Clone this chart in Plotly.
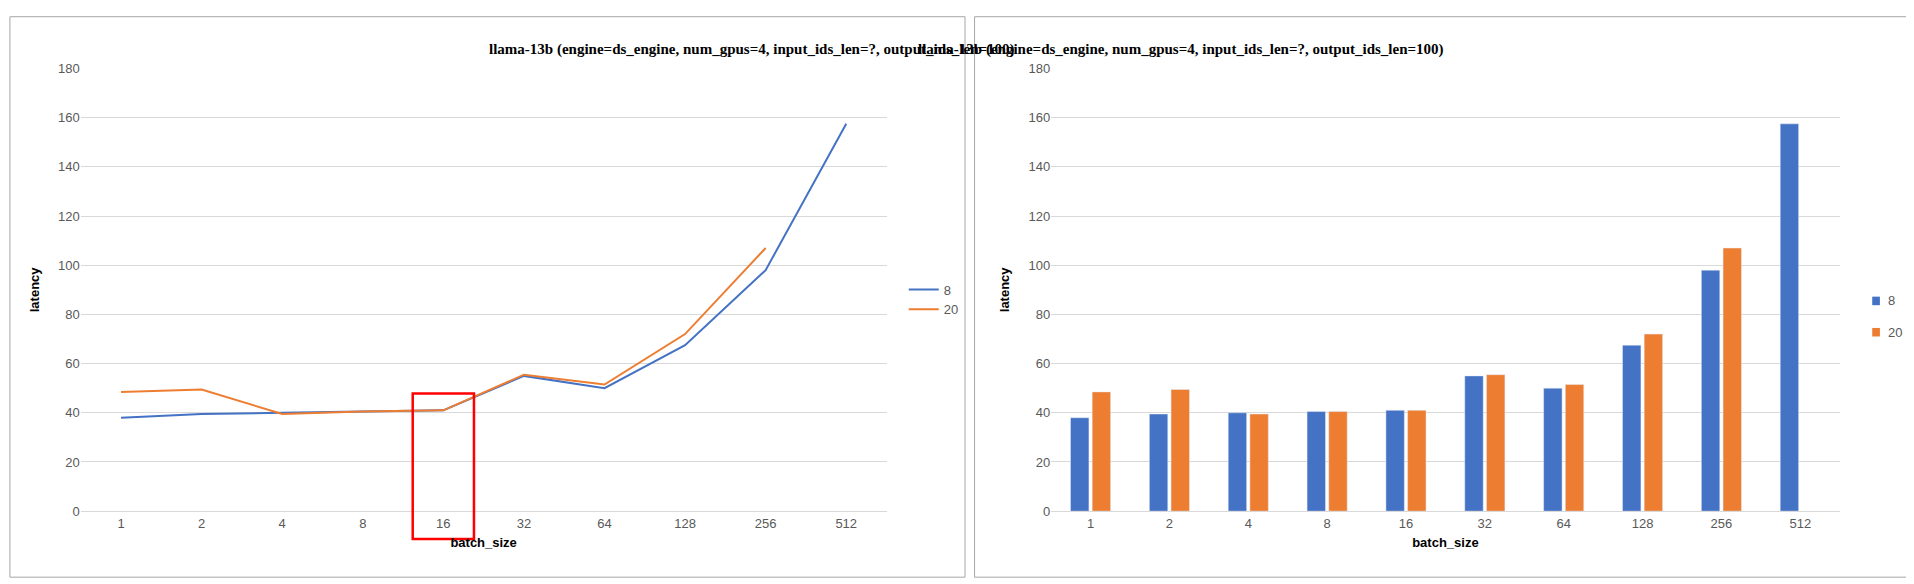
import plotly.graph_objects as go
from plotly.subplots import make_subplots

batch_sizes = ['1', '2', '4', '8', '16', '32', '64', '128', '256', '512']
latency_8 = [38, 39.5, 40, 40.5, 41, 55, 50, 67.5, 98, 157.5]
latency_20 = [48.5, 49.5, 39.5, 40.5, 41, 55.5, 51.5, 72, 107, None]

BLUE = '#4472C4'
ORANGE = '#ED7D31'
TITLE = 'llama-13b (engine=ds_engine, num_gpus=4, input_ids_len=?, output_ids_len=100)'

fig = make_subplots(rows=1, cols=2)

fig.add_trace(go.Scatter(x=batch_sizes, y=latency_8, name='8', mode='lines',
                         line=dict(color=BLUE, width=2)), row=1, col=1)
fig.add_trace(go.Scatter(x=batch_sizes, y=latency_20, name='20', mode='lines',
                         line=dict(color=ORANGE, width=2)), row=1, col=1)
fig.add_trace(go.Bar(x=batch_sizes, y=latency_8, name='8', marker_color=BLUE,
                     showlegend=False), row=1, col=2)
fig.add_trace(go.Bar(x=batch_sizes, y=latency_20, name='20', marker_color=ORANGE,
                     showlegend=False), row=1, col=2)

axis_font = dict(family='Liberation Sans', size=13, color='#595959')
for col in (1, 2):
    fig.update_yaxes(range=[0, 180], dtick=20, gridcolor='#D9D9D9', zeroline=False,
                     showline=False, tickfont=axis_font,
                     title=dict(text='<b>latency</b>', font=dict(family='Liberation Sans', size=13, color='black')),
                     row=1, col=col)
    fig.update_xaxes(showgrid=False, showline=True, linecolor='#D9D9D9', tickfont=axis_font,
                     title=dict(text='<b>batch_size</b>', font=dict(family='Liberation Sans', size=13, color='black'), standoff=8),
                     row=1, col=col)
fig.update_xaxes(range=[-0.5, 9.5], row=1, col=1)

fig.update_layout(
    width=1914, height=584,
    margin=dict(l=0, r=0, t=0, b=0),
    paper_bgcolor='white', plot_bgcolor='white',
    barmode='group', bargap=0.45, bargroupgap=0.15,
    xaxis=dict(domain=[0.038, 0.459]),
    xaxis2=dict(domain=[0.545, 0.957]),
    yaxis=dict(domain=[0.128, 0.906]),
    yaxis2=dict(domain=[0.128, 0.906]),
    legend=dict(x=0.468, y=0.5, xanchor='left', yanchor='middle',
                font=dict(family='Liberation Sans', size=13, color='#595959')),
    showlegend=True,
)

# legend for the bar panel
fig.add_shape(type='rect', xref='paper', yref='paper', x0=0.974, x1=0.978, y0=0.49, y1=0.505,
              fillcolor=BLUE, line_width=0)
fig.add_shape(type='rect', xref='paper', yref='paper', x0=0.974, x1=0.978, y0=0.435, y1=0.45,
              fillcolor=ORANGE, line_width=0)
fig.add_annotation(text='8', xref='paper', yref='paper', x=0.981, y=0.4975, xanchor='left',
                   showarrow=False, font=dict(family='Liberation Sans', size=13, color='#595959'))
fig.add_annotation(text='20', xref='paper', yref='paper', x=0.981, y=0.4425, xanchor='left',
                   showarrow=False, font=dict(family='Liberation Sans', size=13, color='#595959'))

for xc in (0.2505, 0.7515):
    fig.add_annotation(text='<b>' + TITLE + '</b>', xref='paper', yref='paper', x=xc, y=0.958,
                       showarrow=False, font=dict(family='Liberation Serif', size=15, color='black'))

# panel borders
fig.add_shape(type='rect', xref='paper', yref='paper', x0=0.001, x1=0.5, y0=0.012, y1=0.997,
              line=dict(color='#A6A6A6', width=1))
fig.add_shape(type='rect', xref='paper', yref='paper', x0=0.505, x1=0.998, y0=0.012, y1=0.997,
              line=dict(color='#A6A6A6', width=1))

# highlight box around batch_size 16
fig.add_shape(type='rect', xref='x', yref='paper', x0=3.62, x1=4.38, y0=0.079, y1=0.335,
              line=dict(color='red', width=2.5))

fig.write_html('out.html')
